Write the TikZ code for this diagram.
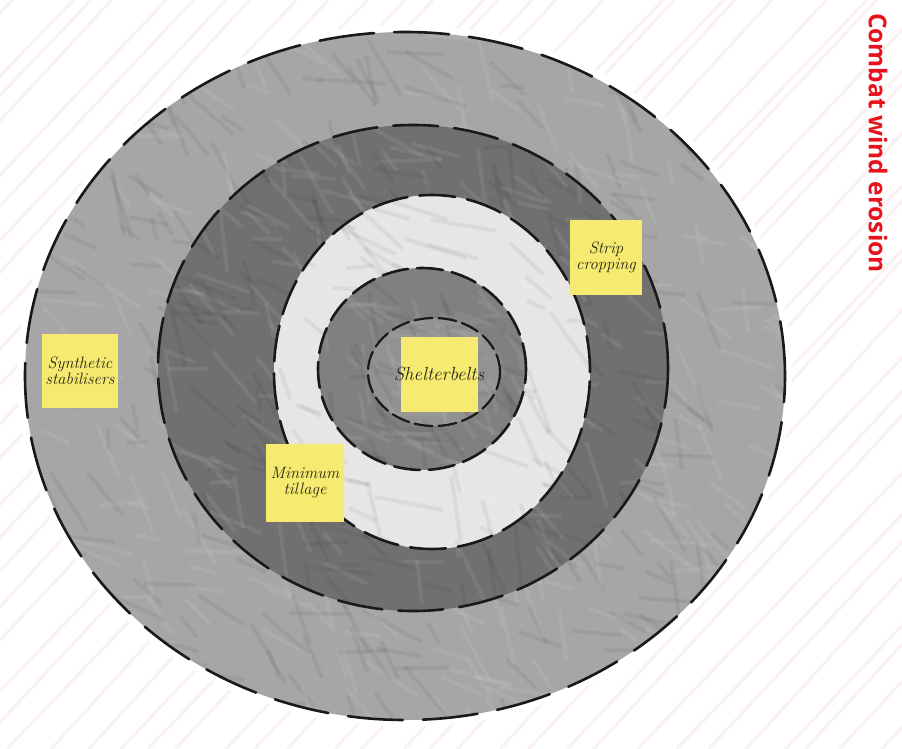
\documentclass[tikz,border=0pt]{standalone}
\usepackage{fontspec}
\newfontfamily\titlefont{Open Sans}
\definecolor{titlered}{RGB}{232,18,28}
\definecolor{noteyellow}{RGB}{246,234,112}
\definecolor{notetext}{RGB}{40,38,20}
\definecolor{pinkstroke}{RGB}{250,226,226}
\definecolor{ringA}{RGB}{166,166,166}
\definecolor{ringB}{RGB}{112,112,112}
\definecolor{ringC}{RGB}{232,229,229}
\definecolor{ringD}{RGB}{128,128,128}
\definecolor{ringE}{RGB}{146,146,146}
\tikzset{
  note/.style={fill=noteyellow, text=notetext, align=center, inner sep=1pt,
    font=\itshape\fontsize{16.5}{16}\selectfont, minimum width=76pt, minimum height=74pt},
  ringedge/.style={draw=black!90, line width=2.6pt, line cap=round},
}
\newcommand\ringtexture[5]{%
  \begin{scope}
    \clip (#1,#2) ellipse[x radius=#3pt, y radius=#4pt];
    \foreach \i in {1,...,#5}{%
      \pgfmathsetmacro\ax{#1+rand*#3}%
      \pgfmathsetmacro\ay{#2+rand*#4}%
      \pgfmathsetmacro\an{40+rand*45}%
      \pgfmathsetmacro\ln{20+rnd*50}%
      \draw[line width=4pt, white, opacity=0.07] (\ax,\ay) -- ++(\an:\ln);
    }
    \foreach \i in {1,...,#5}{%
      \pgfmathsetmacro\ax{#1+rand*#3}%
      \pgfmathsetmacro\ay{#2+rand*#4}%
      \pgfmathsetmacro\an{40+rand*45}%
      \pgfmathsetmacro\ln{20+rnd*50}%
      \draw[line width=4pt, black, opacity=0.05] (\ax,\ay) -- ++(\an:\ln);
    }
  \end{scope}}
\begin{document}
\begin{tikzpicture}[x=1pt,y=-1pt]
\pgfmathsetseed{7}
\useasboundingbox (0,0) rectangle (902,749);
\fill[white] (0,0) rectangle (902,749);
% faint pink background strokes
\begin{scope}
  \clip (0,0) rectangle (902,749);
  \foreach \k in {-760,-725,...,900}{%
    \pgfmathsetmacro\jj{rand*12}%
    \pgfmathsetmacro\ss{rand*0.5}%
    \draw[pinkstroke, line width=3pt, opacity=0.45] (\k+\jj,749) -- (\k+\jj+700+40*\ss,0);
  }
\end{scope}
% rings (fills)
\fill[white] (405,376) ellipse[x radius=387pt, y radius=351pt];
\fill[ringA] (405,376) ellipse[x radius=380pt, y radius=344pt];
\ringtexture{405}{376}{380}{344}{300}
\fill[ringB] (413,368) ellipse[x radius=255pt, y radius=243pt];
\ringtexture{413}{368}{255}{243}{180}
\fill[ringC] (432,372) ellipse[x radius=158pt, y radius=177pt];
\ringtexture{432}{372}{158}{177}{80}
\fill[ringD] (422,369) ellipse[x radius=104pt, y radius=101pt];
\ringtexture{422}{369}{104}{101}{50}
\fill[ringE] (434,372) ellipse[x radius=66pt, y radius=54pt];
\ringtexture{434}{372}{66}{54}{25}
% dashed ring edges
\draw[ringedge, dash pattern=on 55pt off 20pt] (405,376) ellipse[x radius=380pt, y radius=344pt];
\draw[ringedge, dash pattern=on 45pt off 16pt] (413,368) ellipse[x radius=255pt, y radius=243pt];
\draw[ringedge, dash pattern=on 36pt off 12pt] (432,372) ellipse[x radius=158pt, y radius=177pt];
\draw[ringedge, dash pattern=on 26pt off 9pt] (422,369) ellipse[x radius=104pt, y radius=101pt];
\draw[ringedge, line width=2.2pt, dash pattern=on 18pt off 6pt] (434,372) ellipse[x radius=66pt, y radius=54pt];
% sticky notes
\node[note] (synth) at (80,371) {Synthetic\\stabilisers};
\node[note, minimum width=72pt, minimum height=75pt] (strip) at (606,257) {Strip\\cropping};
\node[note, minimum width=78pt, minimum height=78pt] (mintill) at (305,483) {Minimum\\tillage};
\node[note, minimum width=77pt, minimum height=75pt] (shelter) at (439,374) {\makebox[0pt]{\fontsize{19}{20}\selectfont Shelterbelts}};
% title
\node[rotate=-90, text=titlered, font=\titlefont\bfseries\fontsize{24.5}{28}\selectfont] (title) at (878,143) {Combat wind erosion};
\end{tikzpicture}
\end{document}
